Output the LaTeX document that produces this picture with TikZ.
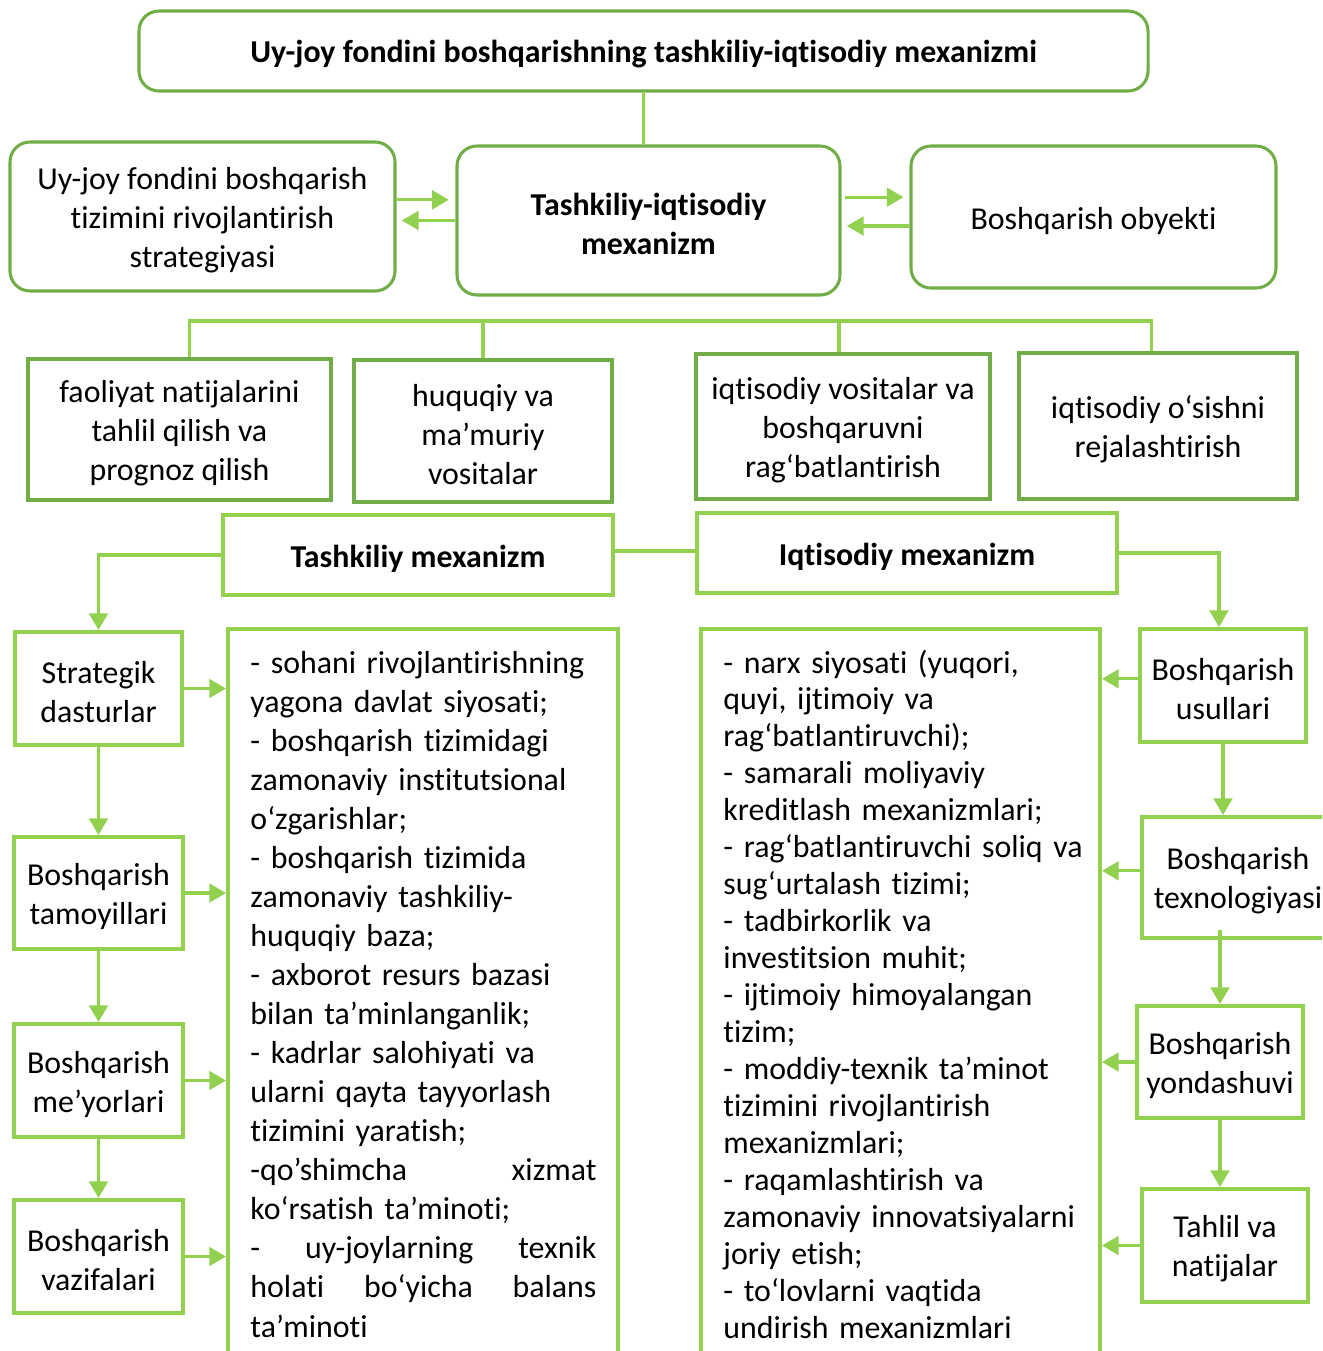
\documentclass[tikz,border=0pt]{standalone}
\usepackage{fontspec}
\setmainfont{Carlito}[Ligatures=NoCommon]
\usetikzlibrary{arrows.meta}
\definecolor{boxgreen}{HTML}{70AD47}
\definecolor{linegreen}{HTML}{92D050}
\newcommand{\ustrut}{\rule{0pt}{12.5pt}}
\begin{document}
\begin{tikzpicture}[x=0.015cm,y=-0.015cm,
  font=\fontsize{13.6}{16.6}\selectfont,
  rbox/.style={rectangle,draw=boxgreen,line width=1.3pt,rounded corners=0.3cm,align=center,inner sep=0pt},
  sbox/.style={rectangle,draw=boxgreen,line width=1.7pt,align=center,inner sep=0pt},
  lbox/.style={rectangle,draw=linegreen,line width=1.7pt,align=center,inner sep=0pt},
  listtext/.style={anchor=base west,align=left,inner sep=0pt},
  conn/.style={draw=linegreen,line width=1.3pt},
  arr/.style={conn,-{Triangle[length=0.25cm,width=0.28cm]}}]
  \useasboundingbox (0,0) rectangle (1322,1351);
  \clip (0,0) rectangle (1322,1351);
  % draw title box
  \node at(643.5,51)[rbox,minimum width=15.135cm,minimum height=1.2cm](title){\ustrut\textbf{Uy-joy fondini boshqarishning tashkiliy-iqtisodiy mexanizmi}};
  % draw strategy box
  \node at(202.5,216.5)[rbox,minimum width=5.775cm,minimum height=2.235cm](strategiya){\ustrut Uy-joy fondini boshqarish\\tizimini rivojlantirish\\strategiyasi};
  % draw mechanism box
  \node at(648.5,220.5)[rbox,minimum width=5.745cm,minimum height=2.235cm](markaz){\ustrut\textbf{Tashkiliy-iqtisodiy}\\\textbf{mexanizm}};
  % draw object box
  \node at(1093.5,217)[rbox,minimum width=5.475cm,minimum height=2.13cm](obyekt){\ustrut Boshqarish obyekti};
  % draw title to mechanism line
  \draw[conn](title.south) -- (title.south |- markaz.north);
  % draw arrows between strategy, mechanism and object
  \draw[arr,shorten >=0.1cm]([yshift=0.25cm]strategiya.east) -- ([yshift=0.25cm]strategiya.east -| markaz.west);
  \draw[arr,shorten >=0.08cm](markaz.west) -- (markaz.west -| strategiya.east);
  \draw[arr,shorten <=0.05cm,shorten >=0.09cm]([yshift=0.35cm]markaz.east) -- ([yshift=0.35cm]markaz.east -| obyekt.west);
  \draw[arr,shorten >=0.08cm]([yshift=-0.135cm]obyekt.west) -- ([yshift=-0.135cm]obyekt.west -| markaz.east);
  % draw means boxes
  \node at(179.5,429.5)[sbox,minimum width=4.545cm,minimum height=2.115cm](tahlilqilish){\ustrut faoliyat natijalarini\\tahlil qilish va\\prognoz qilish};
  \node at(483,431)[sbox,minimum width=3.87cm,minimum height=2.13cm](huquqiy){\ustrut huquqiy va\\ma’muriy\\vositalar};
  \node at(843,426.5)[sbox,minimum width=4.41cm,minimum height=2.175cm](vositalar){\ustrut iqtisodiy vositalar va\\boshqaruvni\\rag‘batlantirish};
  \node at(1158,426)[sbox,minimum width=4.17cm,minimum height=2.19cm](osish){\ustrut iqtisodiy o‘sishni\\rejalashtirish};
  % draw bus line over means boxes
  \coordinate (bus) at (0,321);
  \draw[conn]([xshift=0.15cm]tahlilqilish.north) -- ([xshift=0.15cm]tahlilqilish.north |- bus) -- ([xshift=-0.1cm]osish.north |- bus) -- ([xshift=-0.1cm]osish.north);
  \draw[conn](huquqiy.north) -- (huquqiy.north |- bus);
  \draw[conn]([xshift=-0.06cm]vositalar.north) -- ([xshift=-0.06cm]vositalar.north |- bus);
  % draw mechanism boxes
  \node at(418,555)[lbox,minimum width=5.85cm,minimum height=1.2cm](tashkiliy){\ustrut\textbf{Tashkiliy mexanizm}};
  \node at(907,553)[lbox,minimum width=6.3cm,minimum height=1.2cm](iqtisodiy){\ustrut\textbf{Iqtisodiy mexanizm}};
  \draw[conn]([yshift=0.06cm]tashkiliy.east) -- ([yshift=0.06cm]tashkiliy.east -| iqtisodiy.west);
  % draw list panels
  \node at(423,1014.5)[lbox,minimum width=5.85cm,minimum height=11.565cm](chappanel){};
  \node at(900.5,1014.5)[lbox,minimum width=5.985cm,minimum height=11.565cm](ongpanel){};
  \node at(250,673)[listtext,text width=5.19cm,font={\fontsize{13.6}{16.67}\selectfont\spaceskip=\fontdimen2\font\relax}](chapmatn){- sohani rivojlantirishning\\yagona davlat siyosati;\\- boshqarish tizimidagi\\zamonaviy institutsional\\o‘zgarishlar;\\- boshqarish tizimida\\zamonaviy tashkiliy-\\huquqiy baza;\\- axborot resurs bazasi\\bilan ta’minlanganlik;\\- kadrlar salohiyati va\\ularni qayta tayyorlash\\tizimini yaratish;\\\makebox[5.19cm][s]{-qo’shimcha\hfill xizmat}\\ko‘rsatish ta’minoti;\\\makebox[5.19cm][s]{-\hfill uy-joylarning\hfill texnik}\\\makebox[5.19cm][s]{holati\hfill bo‘yicha\hfill balans}\\ta’minoti};
  \node at(723,673)[listtext,text width=5.6cm,font={\fontsize{13.6}{15.77}\selectfont\spaceskip=\fontdimen2\font\relax}](ongmatn){- narx siyosati (yuqori,\\quyi, ijtimoiy va\\rag‘batlantiruvchi);\\- samarali moliyaviy\\kreditlash mexanizmlari;\\- rag‘batlantiruvchi soliq va\\sug‘urtalash tizimi;\\- tadbirkorlik va\\investitsion muhit;\\- ijtimoiy himoyalangan\\tizim;\\- moddiy-texnik ta’minot\\tizimini rivojlantirish\\mexanizmlari;\\- raqamlashtirish va\\zamonaviy innovatsiyalarni\\joriy etish;\\- to‘lovlarni vaqtida\\undirish mexanizmlari};
  % draw left column boxes
  \node at(98.5,688.5)[lbox,minimum width=2.505cm,minimum height=1.695cm](dasturlar){\ustrut Strategik\\dasturlar};
  \node at(98.5,893)[lbox,minimum width=2.535cm,minimum height=1.68cm](tamoyillar){\ustrut Boshqarish\\tamoyillari};
  \node at(98.5,1080.5)[lbox,minimum width=2.535cm,minimum height=1.695cm](meyorlar){\ustrut Boshqarish\\me’yorlari};
  \node at(98.5,1256.5)[lbox,minimum width=2.535cm,minimum height=1.695cm](vazifalar){\ustrut Boshqarish\\vazifalari};
  % draw right column boxes
  \node at(1223,685.5)[lbox,minimum width=2.49cm,minimum height=1.695cm](usullar){\ustrut Boshqarish\\usullari};
  \node at(1238,877.5)[lbox,minimum width=2.88cm,minimum height=1.815cm](texnologiya){\ustrut Boshqarish\\texnologiyasi};
  \node at(1220,1062)[lbox,minimum width=2.49cm,minimum height=1.68cm](yondashuv){\ustrut Boshqarish\\yondashuvi};
  \node at(1225,1245.5)[lbox,minimum width=2.49cm,minimum height=1.695cm](natijalar){\ustrut Tahlil va\\natijalar};
  % draw arrows from mechanism boxes to columns
  \draw[arr](tashkiliy.west) -| (dasturlar.north);
  \draw[arr](iqtisodiy.east) -| ([xshift=-0.06cm]usullar.north);
  % draw left column arrows
  \draw[arr](dasturlar) -- (tamoyillar);
  \draw[arr](tamoyillar) -- (meyorlar);
  \draw[arr](meyorlar) -- (vazifalar);
  \draw[arr](dasturlar.east) -- (dasturlar.east -| chappanel.west);
  \draw[arr](tamoyillar.east) -- (tamoyillar.east -| chappanel.west);
  \draw[arr](meyorlar.east) -- (meyorlar.east -| chappanel.west);
  \draw[arr](vazifalar.east) -- (vazifalar.east -| chappanel.west);
  % draw right column arrows
  \draw[arr](usullar.south) -- (usullar.south |- texnologiya.north);
  \draw[arr]([yshift=0.15cm]yondashuv.north |- texnologiya.south) -- (yondashuv.north);
  \draw[arr](yondashuv.south) -- (yondashuv.south |- natijalar.north);
  \draw[arr]([yshift=0.1cm]usullar.west) -- ([yshift=0.1cm]usullar.west -| ongpanel.east);
  \draw[arr]([yshift=0.1cm]texnologiya.west) -- ([yshift=0.1cm]texnologiya.west -| ongpanel.east);
  \draw[arr](yondashuv.west) -- (yondashuv.west -| ongpanel.east);
  \draw[arr](natijalar.west) -- (natijalar.west -| ongpanel.east);
\end{tikzpicture}
\end{document}
